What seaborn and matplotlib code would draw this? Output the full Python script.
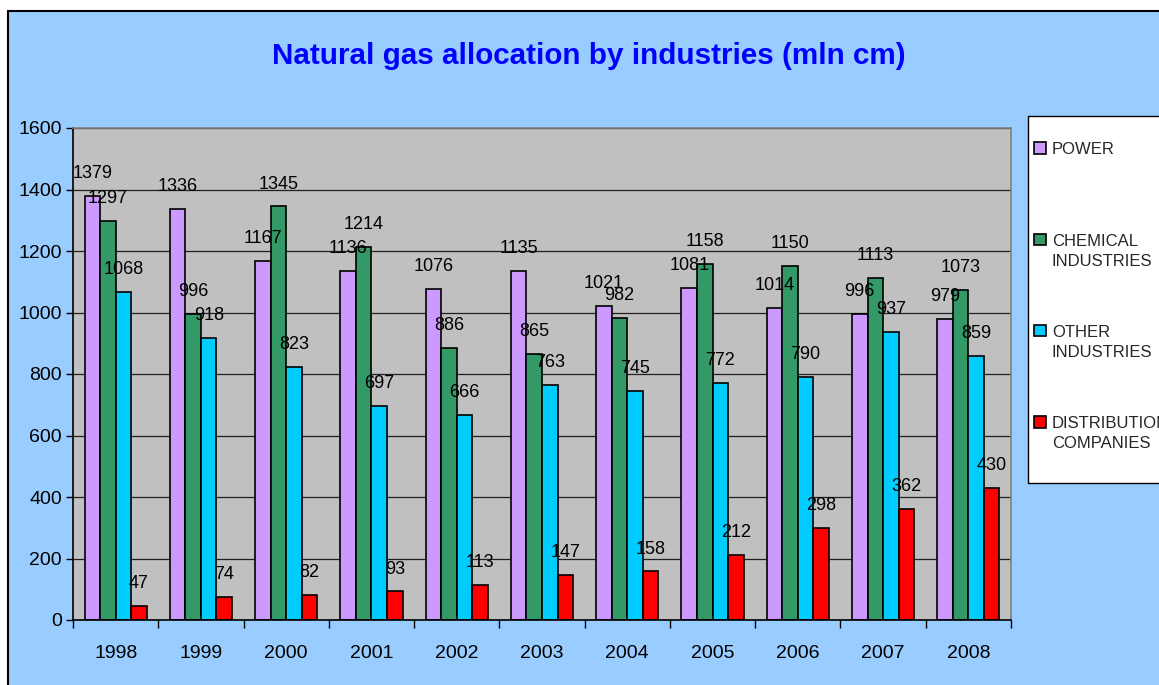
import numpy as np
import pandas as pd
import seaborn as sns
from matplotlib import pyplot as plt
from matplotlib.legend_handler import HandlerPatch
from matplotlib.patches import Patch, Rectangle

YEARS = ["1998", "1999", "2000", "2001", "2002", "2003", "2004", "2005", "2006", "2007", "2008"]
SERIES = ["POWER", "CHEMICAL INDUSTRIES", "OTHER INDUSTRIES", "DISTRIBUTION COMPANIES"]
LEGEND_LABELS = ["POWER\n ", "CHEMICAL\nINDUSTRIES", "OTHER\nINDUSTRIES", "DISTRIBUTION\nCOMPANIES"]

power = [1379, 1336, 1167, 1136, 1076, 1135, 1021, 1081, 1014, 996, 979]
chemical = [1297, 996, 1345, 1214, 886, 865, 982, 1158, 1150, 1113, 1073]
other = [1068, 918, 823, 697, 666, 763, 745, 772, 790, 937, 859]
distribution = [47, 74, 82, 93, 113, 147, 158, 212, 298, 362, 430]

COLORS = ["#CC99FF", "#339966", "#00CCFF", "#FF0000"]

W, H = 1159, 685
LEG_FS = 12
LEG_LS = 1.45

df = pd.DataFrame(
    {
        "year": YEARS * 4,
        "series": [s for s in SERIES for _ in YEARS],
        "value": power + chemical + other + distribution,
    }
)


def first_line_square(legend, orig_handle, xdescent, ydescent, width, height, fontsize):
    # lift the square so it sits next to the first line of a two-line label
    return Rectangle((-xdescent, -ydescent + 0.5 * LEG_LS * fontsize), width, height)


sns.set_theme(style="white")
plt.rcParams["font.family"] = ["Liberation Sans", "DejaVu Sans"]

fig = plt.figure(figsize=(W / 100, H / 100), dpi=100, facecolor="white")
# outer chart area with black border on the visible edges
fig.add_artist(
    Rectangle((8 / W, -0.1), 1.2, 1.1 - 11 / H, transform=fig.transFigure,
              facecolor="#99CCFF", edgecolor="black", linewidth=1.5, zorder=-10)
)
# legend box
fig.add_artist(
    Rectangle((1028 / W, 1 - 483 / H), 0.2, (483 - 116) / H, transform=fig.transFigure,
              facecolor="white", edgecolor="black", linewidth=1.0, zorder=1)
)

ax = fig.add_axes([73 / W, 1 - 620 / H, (1011 - 73) / W, (620 - 128) / H])
ax.set_facecolor("#C0C0C0")
ax.set_axisbelow(True)
ax.yaxis.grid(True, color="#202020", linewidth=0.9)
ax.xaxis.grid(False)

sns.barplot(
    data=df, x="year", y="value", hue="series",
    order=YEARS, hue_order=SERIES, palette=COLORS, saturation=1,
    width=0.73, edgecolor="black", linewidth=1.2,
    legend=False, ax=ax,
)

for container in ax.containers:
    ax.bar_label(container, padding=10, fontsize=13, color="black")

ax.set_xlim(-0.5, len(YEARS) - 0.5)
ax.set_ylim(0, 1600)
ax.set_yticks(np.arange(0, 1601, 200))
ax.set_xlabel("")
ax.set_ylabel("")
ax.set_xticks(np.arange(-0.5, len(YEARS), 1), minor=True)
ax.tick_params(axis="x", which="major", length=0, labelsize=14, pad=18, colors="black")
ax.tick_params(axis="x", which="minor", length=6, width=1, direction="out", color="black")
ax.tick_params(axis="y", length=5, width=1, direction="out", labelsize=14, pad=3, colors="black")
ax.tick_params(axis="x", bottom=True, which="both")
ax.tick_params(axis="y", left=True)

for side in ["left", "bottom"]:
    ax.spines[side].set_color("black")
    ax.spines[side].set_linewidth(1.2)
for side in ["top", "right"]:
    ax.spines[side].set_color("#808080")
    ax.spines[side].set_linewidth(1.2)

fig.text(589 / W, 1 - 56 / H, "Natural gas allocation by industries (mln cm)",
         ha="center", va="center", fontsize=21.3, fontweight="bold", color="#0000FF")

handles = [Patch(facecolor=c, edgecolor="black", linewidth=1.2) for c in COLORS]
leg = fig.legend(
    handles, LEGEND_LABELS,
    loc="upper left", bbox_to_anchor=(1031 / W, 1 - 139 / H),
    bbox_transform=fig.transFigure,
    fontsize=LEG_FS, frameon=False,
    handlelength=0.7, handleheight=0.7, handletextpad=0.35,
    labelspacing=3.35, borderpad=0.2, borderaxespad=0,
    handler_map={Patch: HandlerPatch(patch_func=first_line_square)},
)
for t in leg.get_texts():
    t.set_linespacing(LEG_LS)
leg.set_zorder(2)

fig.savefig("out.png", dpi=100, facecolor=fig.get_facecolor())
